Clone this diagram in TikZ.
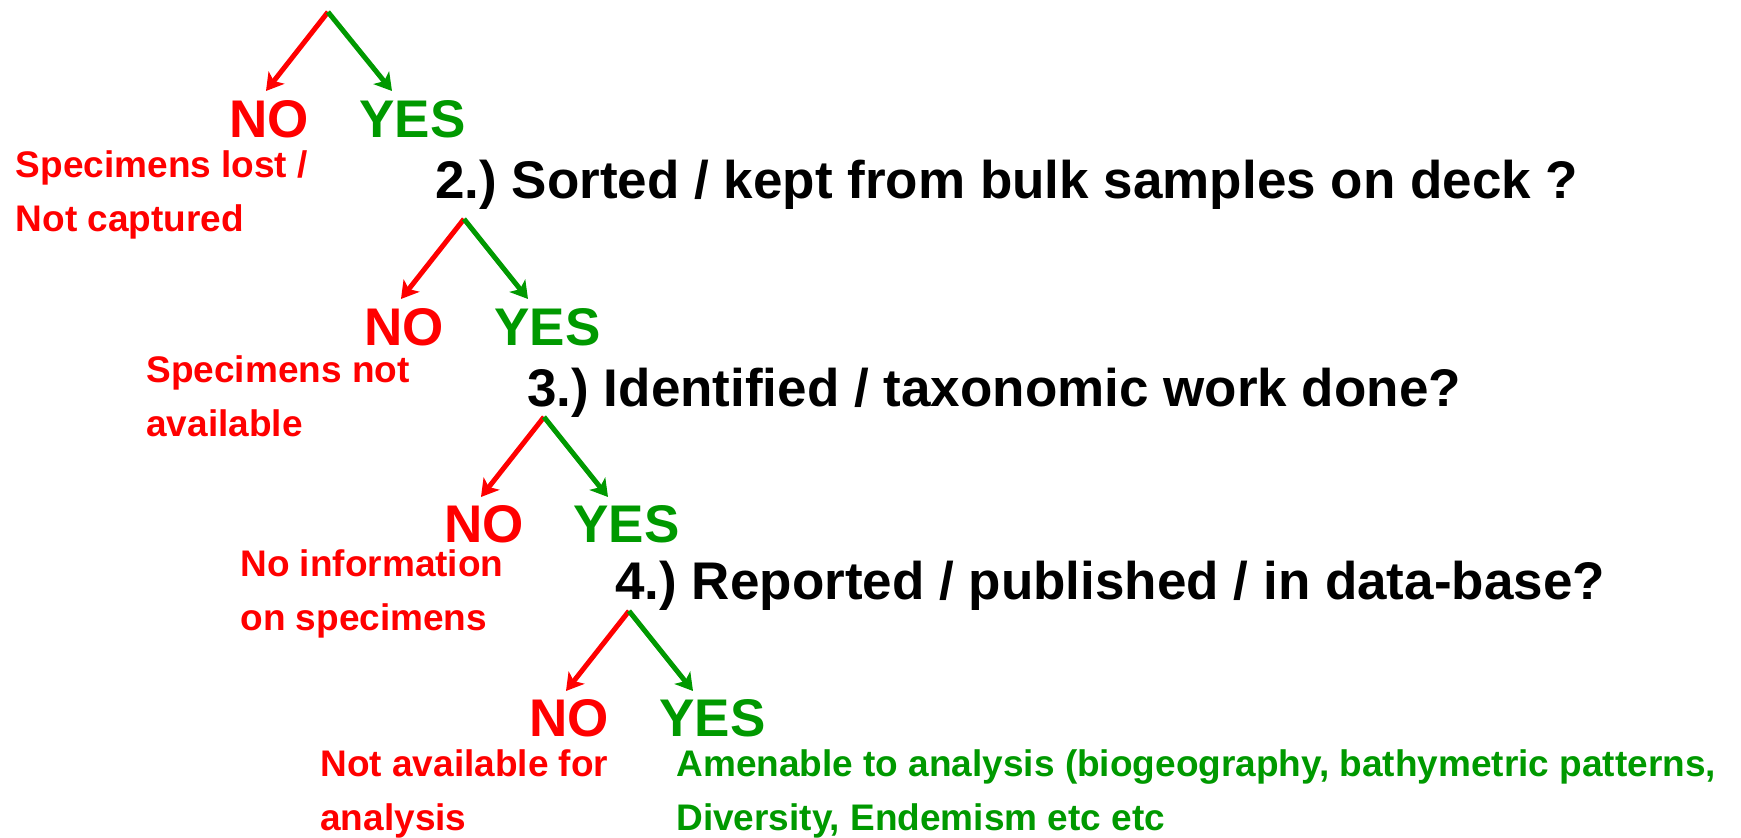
\documentclass[tikz,border=0pt]{standalone}
\usepackage{fontspec}
\setmainfont{Liberation Sans}
\newfontfamily\heavy{Liberation Sans Bold}
\usetikzlibrary{arrows.meta}
\definecolor{nored}{RGB}{255,0,0}
\definecolor{yesgreen}{RGB}{0,153,0}
\frenchspacing
\tikzset{
  question/.style={anchor=base west, inner sep=0pt, font=\heavy\fontsize{26.5}{30}\selectfont, text=black},
  answer/.style={anchor=base west, inner sep=0pt, font=\heavy\fontsize{26.5}{30}\selectfont},
  noans/.style={answer, text=nored},
  yesans/.style={answer, text=yesgreen},
  note/.style={anchor=base west, inner sep=0pt, align=left, font=\heavy\fontsize{18.5}{27}\selectfont},
  nonote/.style={note, text=nored},
  yesnote/.style={note, text=yesgreen},
  branch/.style={line width=2.5pt, -{Stealth[length=8.5pt, width=10pt, inset=2.2pt]}},
  nobranch/.style={branch, draw=nored, fill=nored},
  yesbranch/.style={branch, draw=yesgreen, fill=yesgreen}
}
\begin{document}
\begin{tikzpicture}[x=0.5pt,y=-0.5pt]
\useasboundingbox (0,0) rectangle (1741,838);
% level 1
\coordinate (a1) at (328,12);
\coordinate (n1) at (266,91);
\coordinate (y1) at (392,91);
\draw[nobranch] (a1) -- (n1);
\draw[yesbranch] (a1) -- (y1);
\node[noans] (no1) at (229,138) {NO};
\node[yesans] (yes1) at (359,138) {YES};
\node[nonote] (nn1) at (15.5,232) {Specimens lost /\\Not captured};
\node[question] (q2) at (435,199) {2.) Sorted / kept from bulk samples on deck ?};
% level 2
\coordinate (a2) at (464,219);
\coordinate (n2) at (401,299);
\coordinate (y2) at (528,299);
\draw[nobranch] (a2) -- (n2);
\draw[yesbranch] (a2) -- (y2);
\node[noans] (no2) at (364,346) {NO};
\node[yesans] (yes2) at (494,346) {YES};
\node[nonote] (nn2) at (146,437) {Specimens not\\available};
\node[question] (q3) at (527,407) {3.) Identified / taxonomic work done?};
% level 3
\coordinate (a3) at (544,417);
\coordinate (n3) at (481,497);
\coordinate (y3) at (608,497);
\draw[nobranch] (a3) -- (n3);
\draw[yesbranch] (a3) -- (y3);
\node[noans] (no3) at (444,543) {NO};
\node[yesans] (yes3) at (573,543) {YES};
\node[nonote] (nn3) at (240,631) {No information\\on specimens};
\node[question] (q4) at (615,600) {4.) Reported / published / in data-base?};
% level 4
\coordinate (a4) at (629,611);
\coordinate (n4) at (566,691);
\coordinate (y4) at (693,691);
\draw[nobranch] (a4) -- (n4);
\draw[yesbranch] (a4) -- (y4);
\node[noans] (no4) at (529,737) {NO};
\node[yesans] (yes4) at (659,737) {YES};
\node[nonote] (nn4) at (320,831) {Not available for\\analysis};
\node[yesnote] (yn4) at (676,831) {Amenable to analysis (biogeography, bathymetric patterns,\\Diversity, Endemism etc etc};
\end{tikzpicture}
\end{document}
